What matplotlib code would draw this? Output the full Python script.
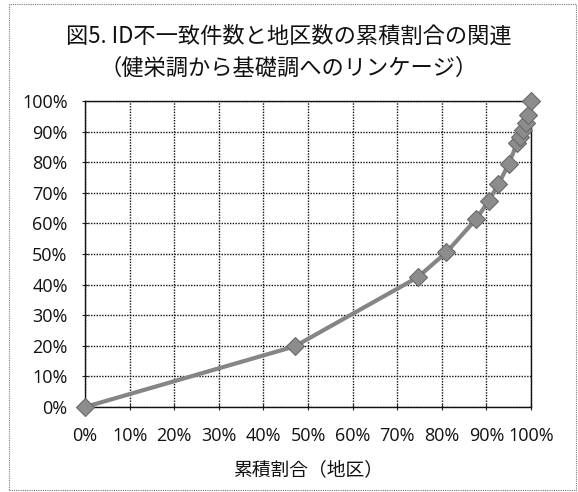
import matplotlib
matplotlib.use('Agg')
import matplotlib.pyplot as plt
from matplotlib.patches import Rectangle
from matplotlib.ticker import MultipleLocator, FuncFormatter

plt.rcParams['font.family'] = ['Noto Sans CJK JP', 'DejaVu Sans']

# 累積割合（地区）と ID不一致件数の累積割合 (%)
area_cum = [0, 47.0, 74.6, 81.0, 87.7, 90.5, 92.7, 95.0, 96.9, 97.6, 98.3, 98.9, 99.3, 100]
id_cum = [0, 19.8, 42.4, 50.5, 61.4, 67.3, 72.8, 79.4, 86.3, 88.2, 90.4, 92.8, 95.3, 100]

title = '図5. ID不一致件数と地区数の累積割合の関連\n（健栄調から基礎調へのリンケージ）'
xlabel = '累積割合（地区）'

fig = plt.figure(figsize=(5.78, 4.92), dpi=100)
ax = fig.add_axes([85 / 578, 85 / 492, 446 / 578, 306 / 492])

ax.plot(area_cum, id_cum, color='#858585', lw=3, marker='D', ms=9,
        markerfacecolor='#8c8c8c', markeredgecolor='#6a6a6a', markeredgewidth=0.8,
        zorder=3, clip_on=False)

ax.set_xlim(0, 100)
ax.set_ylim(0, 100)
ax.xaxis.set_major_locator(MultipleLocator(10))
ax.yaxis.set_major_locator(MultipleLocator(10))
pct = FuncFormatter(lambda v, p: '%d%%' % round(v))
ax.xaxis.set_major_formatter(pct)
ax.yaxis.set_major_formatter(pct)

ax.grid(True, color='#111111', linestyle=(0, (1, 1)), lw=1.0)
for s in ax.spines.values():
    s.set_color('#111111')
    s.set_linestyle((0, (1, 1)))
    s.set_linewidth(1.0)
ax.tick_params(direction='inout', length=5, width=0.8, color='#222222',
               labelsize=13, labelcolor='#111111')
ax.tick_params(axis='x', pad=12)
ax.tick_params(axis='y', pad=10)
for lab in ax.get_xticklabels() + ax.get_yticklabels():
    lab.set_family(['Open Sans', 'DejaVu Sans'])

ax.set_xlabel(xlabel, fontsize=13.5, labelpad=10, color='#111111')
fig.text(0.5, 1 - 52 / 492, title, ha='center', va='center', fontsize=16,
         linespacing=1.5, color='#111111')

fig.patches.append(Rectangle((9 / 578, 2 / 492), 567 / 578, 486 / 492,
                             transform=fig.transFigure, fill=False,
                             edgecolor='#777777', lw=0.8, linestyle=(0, (1, 1))))

fig.savefig('out.png', dpi=100)
